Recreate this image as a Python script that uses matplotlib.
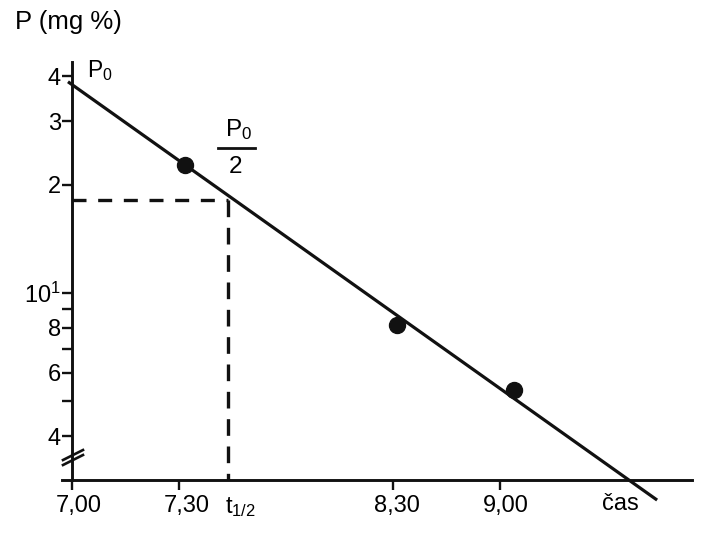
import matplotlib
matplotlib.use("Agg")
import matplotlib.pyplot as plt
import matplotlib.transforms as mtransforms
from matplotlib.lines import Line2D
from matplotlib.ticker import NullFormatter

plt.rcParams["font.family"] = ["Liberation Sans", "DejaVu Sans"]

# ─── data ───────────────────────────────────────────────────────────────────

time_h = [7.528, 8.519, 9.065]       # sampling times, hours
conc = [22.7, 8.15, 5.38]            # P (mg %)
fit_t = [6.981, 9.734]               # ends of the fitted line
fit_p = [38.6, 2.66]
t_half = 7.729
p_half = 18.1

xticks = [7.0, 7.5, t_half, 8.5, 9.0]
xlabels = ["7,00", "7,30", r"$\mathregular{t_{1/2}}$", "8,30", "9,00"]
yticks = [4, 6, 8, 10, 20, 30, 40]
ylabels = ["4", "6", "8", r"$\mathregular{10^1}$", "2", "3", "4"]
yticks_minor = [5, 7, 9]

INK = "#111111"
LW = 2.3
YMIN, YMAX = 3.024, 43.8

# ─── figure ─────────────────────────────────────────────────────────────────

fig = plt.figure(figsize=(7.2, 5.4), dpi=100, facecolor="white")
ax = fig.add_axes([0.0861, 0.1111, 0.875, 0.7741])
ax.set_yscale("log")
ax.set_xlim(6.953, 9.897)
ax.set_ylim(YMIN, YMAX)

for side in ("top", "right"):
    ax.spines[side].set_visible(False)
ax.spines["left"].set_position(("data", 7.0))
for side in ("left", "bottom"):
    ax.spines[side].set_linewidth(2.1)
    ax.spines[side].set_color(INK)

ax.set_yticks(yticks, labels=ylabels)
ax.set_yticks(yticks_minor, minor=True)
ax.yaxis.set_minor_formatter(NullFormatter())
ax.set_xticks(xticks, labels=xlabels)

ax.tick_params(axis="y", which="both", direction="out", length=7.5, width=1.7,
               color=INK, labelsize=17, pad=0.5)
ax.tick_params(axis="x", direction="out", length=7, width=1.7,
               color=INK, labelsize=17, pad=4)
ax.xaxis.get_major_ticks()[2].tick1line.set_visible(False)

# labels sit a little right of their ticks in the original
for lbl, dx in zip(ax.get_xticklabels(), [7, 8, 12, 4, 6]):
    lbl.set_transform(lbl.get_transform()
                      + mtransforms.ScaledTranslation(dx / 100, 0, fig.dpi_scale_trans))

# ─── marks ──────────────────────────────────────────────────────────────────

ax.plot(fit_t, fit_p, color=INK, lw=LW, clip_on=False, solid_capstyle="butt")
ax.plot(time_h, conc, "o", color=INK, ms=11.5, clip_on=False)

ax.plot([7.0, t_half], [p_half, p_half], color=INK, lw=2.4, dashes=(4.2, 3.5))
ax.plot([t_half, t_half], [p_half, YMIN], color=INK, lw=2.4, dashes=(5.0, 3.2))

# ─── texts ──────────────────────────────────────────────────────────────────

fig.text(0.021, 0.959, "P (mg %)", fontsize=18.5, ha="left", va="center")
ax.text(7.07, 41.6, r"$\mathregular{P_0}$", fontsize=16.5, ha="left", va="center")

ax.text(7.776, 28.5, r"$\mathregular{P_0}$", fontsize=17.5, ha="center", va="center")
ax.plot([7.682, 7.855], [25.3, 25.3], color=INK, lw=2.0)
ax.text(7.766, 22.4, "2", fontsize=17.5, ha="center", va="center")

ax.text(9.561, YMIN, "čas", fontsize=17, ha="center", va="top",
        transform=ax.transData + mtransforms.ScaledTranslation(0, -0.13, fig.dpi_scale_trans))

# axis-break marks on the y axis
for off in (0, 5):
    fig.add_artist(Line2D([63 / 720, 83 / 720],
                          [1 - (460 + off) / 540, 1 - (450 + off) / 540],
                          color=INK, lw=1.9))

fig.savefig("out.png", dpi=100, facecolor="white")
